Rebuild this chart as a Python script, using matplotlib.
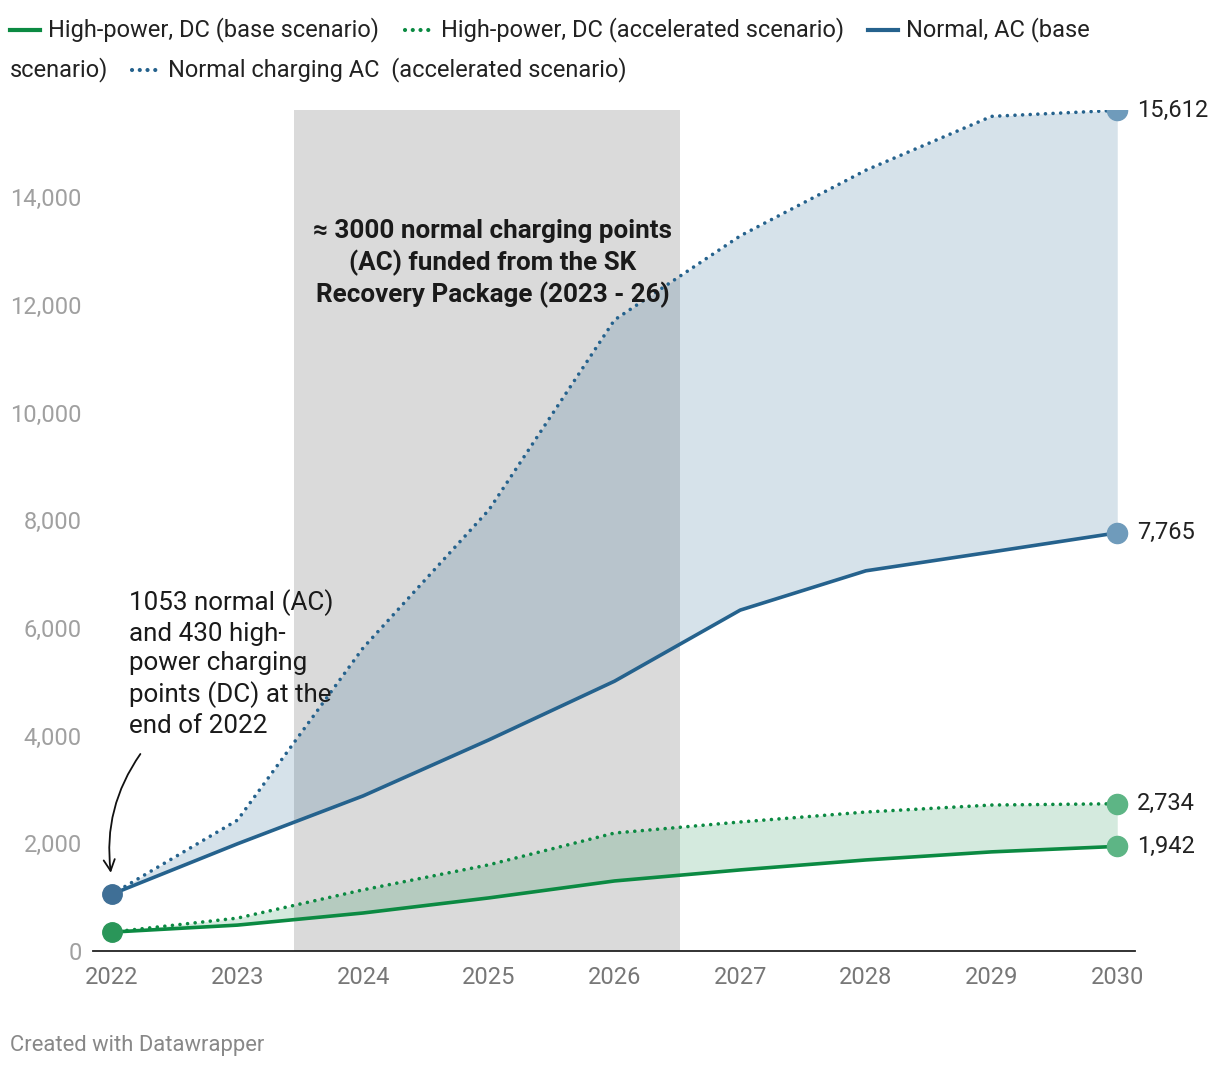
import matplotlib
matplotlib.use("Agg")
import matplotlib.pyplot as plt
from matplotlib.lines import Line2D

plt.rcParams['font.family'] = ['Roboto', 'DejaVu Sans']

# data
years = [2022, 2023, 2024, 2025, 2026, 2027, 2028, 2029, 2030]
ac_base = [1053, 1990, 2880, 3920, 5010, 6330, 7060, 7410, 7765]
ac_accel = [1053, 2430, 5630, 8190, 11720, 13280, 14500, 15500, 15612]
dc_base = [350, 480, 705, 985, 1300, 1505, 1690, 1840, 1942]
dc_accel = [350, 610, 1135, 1600, 2190, 2395, 2580, 2710, 2734]

funded_start, funded_end = 2023.45, 2026.52

blue = '#25628d'
green = '#0b8a42'

fig = plt.figure(figsize=(12.2, 10.68), dpi=100)
ax = fig.add_axes([0.0762, 0.1096, 0.854, 0.7875])

# grey band for the funded period
ax.axvspan(funded_start, funded_end, color='#dadada', zorder=0, lw=0)

# areas between base and accelerated scenario
ax.fill_between(years, ac_base, ac_accel, color='#276690', alpha=0.19, lw=0, zorder=1)
ax.fill_between(years, dc_base, dc_accel, color='#00853e', alpha=0.17, lw=0, zorder=1)

dot = (0, (0.01, 2.1))
ax.plot(years, ac_accel, color=blue, lw=2.6, ls=dot, dash_capstyle='round', zorder=3)
ax.plot(years, ac_base, color=blue, lw=2.6, zorder=3, solid_joinstyle='round')
ax.plot(years, dc_accel, color=green, lw=2.6, ls=dot, dash_capstyle='round', zorder=3)
ax.plot(years, dc_base, color=green, lw=2.6, zorder=3, solid_joinstyle='round')

# start / end dots
ax.plot(years[0], ac_base[0], 'o', ms=14, color='#3f6f96', zorder=4)
ax.plot(years[0], dc_base[0], 'o', ms=14, color='#2a9659', zorder=4)
for v, c in [(ac_accel[-1], '#6f9bbb'), (ac_base[-1], '#6f9bbb'),
             (dc_accel[-1], '#5db585'), (dc_base[-1], '#5db585')]:
    ax.plot(years[-1], v, 'o', ms=14.5, color=c, zorder=4)
    ax.text(years[-1] + 0.16, v, f'{v:,}', fontsize=17, color='#222222',
            va='center', ha='left')

ax.set_xlim(2021.85, 2030.14)
ax.set_ylim(0, 15620)
ax.set_xticks(years)
ax.set_yticks(range(0, 14001, 2000))
ax.set_yticklabels([f'{v:,}' for v in range(0, 14001, 2000)])
ax.tick_params(axis='y', length=0, pad=8, labelsize=17, labelcolor='#a0a0a0')
ax.tick_params(axis='x', length=0, pad=11, labelsize=17, labelcolor='#777777')
for s in ['top', 'right', 'left']:
    ax.spines[s].set_visible(False)
ax.spines['bottom'].set_color('#222222')
ax.spines['bottom'].set_linewidth(1.3)

# annotations
ax.text(2025.03, 13590, '≈ 3000 normal charging points\n(AC) funded from the SK\nRecovery Package (2023 - 26)',
        ha='center', va='top', fontsize=18.7, fontweight='bold', color='#1a1a1a', linespacing=1.3)
ax.text(2022.135, 6720, '1053 normal (AC)\nand 430 high-\npower charging\npoints (DC) at the\nend of 2022',
        ha='left', va='top', fontsize=18.7, color='#1a1a1a', linespacing=1.3)
ax.annotate('', xy=(2021.995, 1400), xytext=(2022.24, 3700),
            arrowprops=dict(arrowstyle='->', color='#111111', lw=1.3,
                            connectionstyle='arc3,rad=0.2', mutation_scale=20))


# legend drawn by hand (wraps across two rows like the original)
def leg(x0, y0, color, ls, label):
    x0f, y0f = x0 / 1220, 1 - y0 / 1068
    if ls == '-':
        fig.add_artist(Line2D([x0f, x0f + 30 / 1220], [y0f, y0f], color=color, lw=3))
    else:
        fig.add_artist(Line2D([(x0 + 2) / 1220, (x0 + 29) / 1220], [y0f, y0f], color=color, lw=3,
                              ls=(0, (0.01, 1.85)), dash_capstyle='round'))
    fig.text((x0 + 38) / 1220, y0f, label, fontsize=17, color='#222222', va='center', ha='left')


leg(10, 30, green, '-', 'High-power, DC (base scenario)')
leg(403, 30, green, ':', 'High-power, DC (accelerated scenario)')
leg(868, 30, blue, '-', 'Normal, AC (base')
fig.text(10 / 1220, 1 - 70 / 1068, 'scenario)', fontsize=17, color='#222222', va='center', ha='left')
leg(130, 70, blue, ':', 'Normal charging AC  (accelerated scenario)')

fig.text(10 / 1220, 1 - 1045 / 1068, 'Created with Datawrapper', fontsize=15.8, color='#888888',
         va='center', ha='left')

fig.savefig('out.png', dpi=100)
